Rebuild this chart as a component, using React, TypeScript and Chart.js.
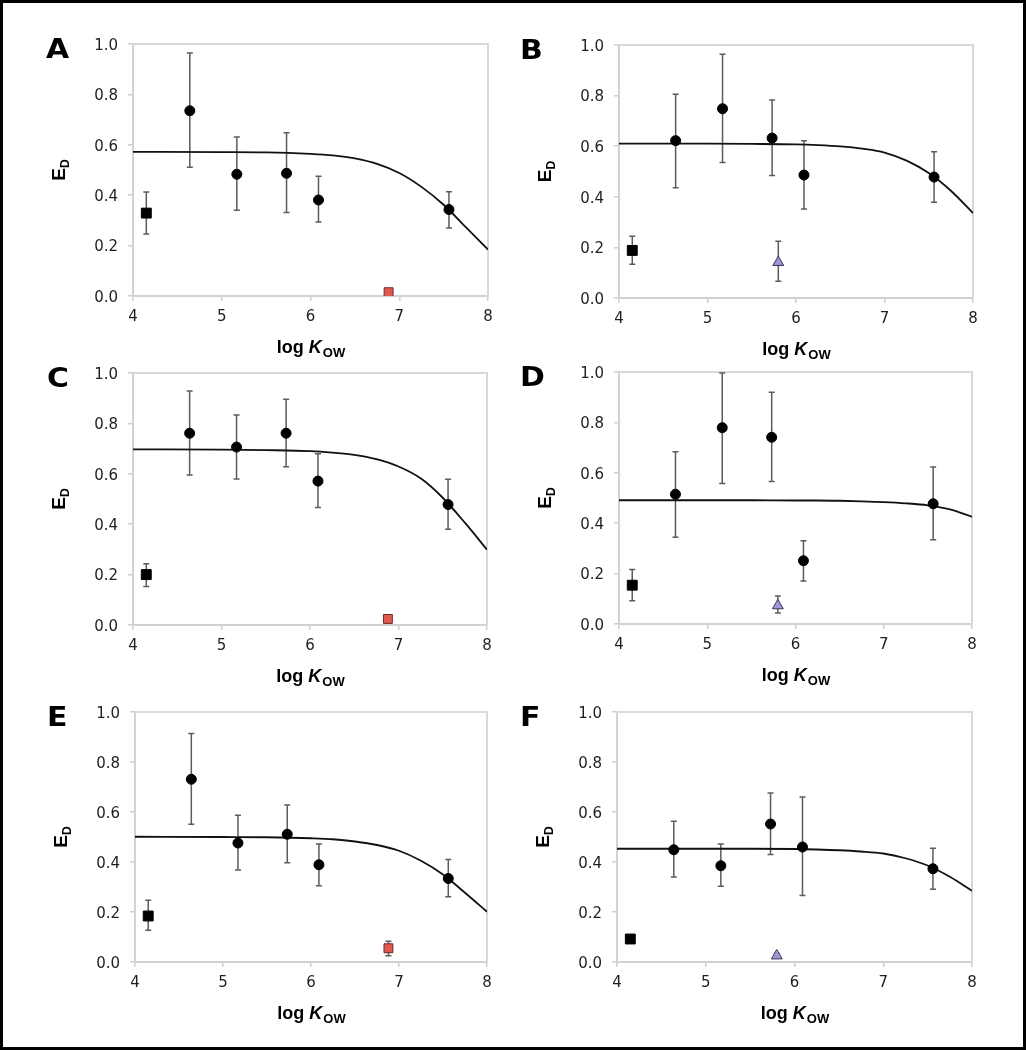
import React, { useEffect, useRef } from "react";
import { Chart, registerables } from "chart.js";

Chart.register(...registerables);

// ---------- data ----------
const circleLogKow = [4.64, 5.17, 5.73, 6.09, 7.56];
const squareLogKow = [4.15];
const redSquareLogKow = [6.88];
const triangleLogKow = [5.8];
const curveLogKow = [4, 5, 5.5, 6, 6.25, 6.5, 6.75, 7, 7.25, 7.5, 7.75, 8];
const xTickValues = [4, 5, 6, 7, 8];
const yTickValues = [0, 0.2, 0.4, 0.6, 0.8, 1.0];
const panelLetters = ["A", "B", "C", "D", "E", "F"];
const xTitleParts = ["log ", "K", "OW"];
const yTitleParts = ["E", "D"];

// Panel A
const aCircle = [0.735, 0.483, 0.487, 0.381, 0.343];
const aCircleLo = [0.511, 0.34, 0.331, 0.294, 0.27];
const aCircleHi = [0.964, 0.631, 0.648, 0.475, 0.414];
const aSquare = [0.329];
const aSquareLo = [0.246];
const aSquareHi = [0.413];
const aRed = [0.015];
const aCurve = [0.572, 0.571, 0.57, 0.564, 0.558, 0.546, 0.524, 0.488, 0.433, 0.362, 0.273, 0.184];

// Panel B
const bCircle = [0.622, 0.748, 0.632, 0.486, 0.478];
const bCircleLo = [0.436, 0.536, 0.484, 0.352, 0.378];
const bCircleHi = [0.805, 0.963, 0.783, 0.622, 0.578];
const bSquare = [0.188];
const bSquareLo = [0.133];
const bSquareHi = [0.244];
const bTriangle = [0.141];
const bTriangleLo = [0.066];
const bTriangleHi = [0.224];
const bCurve = [0.61, 0.61, 0.609, 0.607, 0.604, 0.599, 0.59, 0.575, 0.543, 0.494, 0.424, 0.336];

// Panel C
const cCircle = [0.761, 0.706, 0.761, 0.571, 0.478];
const cCircleLo = [0.595, 0.579, 0.628, 0.466, 0.38];
const cCircleHi = [0.929, 0.833, 0.896, 0.68, 0.578];
const cSquare = [0.2];
const cSquareLo = [0.153];
const cSquareHi = [0.243];
const cRed = [0.024];
const cCurve = [0.697, 0.696, 0.694, 0.69, 0.684, 0.675, 0.658, 0.629, 0.582, 0.505, 0.406, 0.299];

// Panel D
const dCircle = [0.515, 0.779, 0.741, 0.251, 0.477];
const dCircleLo = [0.344, 0.558, 0.565, 0.171, 0.334];
const dCircleHi = [0.684, 0.996, 0.92, 0.33, 0.623];
const dSquare = [0.154];
const dSquareLo = [0.092];
const dSquareHi = [0.216];
const dTriangle = [0.073];
const dTriangleLo = [0.044];
const dTriangleHi = [0.111];
const dCurve = [0.491, 0.491, 0.491, 0.49, 0.49, 0.489, 0.487, 0.484, 0.479, 0.471, 0.455, 0.426];

// Panel E
const eCircle = [0.731, 0.476, 0.511, 0.389, 0.334];
const eCircleLo = [0.551, 0.368, 0.397, 0.305, 0.261];
const eCircleHi = [0.914, 0.587, 0.628, 0.472, 0.41];
const eSquare = [0.184];
const eSquareLo = [0.127];
const eSquareHi = [0.247];
const eRed = [0.055];
const eRedLo = [0.025];
const eRedHi = [0.083];
const eCurve = [0.501, 0.5, 0.499, 0.495, 0.491, 0.482, 0.468, 0.445, 0.405, 0.35, 0.277, 0.201];

// Panel F
const fCircle = [0.449, 0.385, 0.552, 0.46, 0.373];
const fCircleLo = [0.34, 0.303, 0.43, 0.266, 0.291];
const fCircleHi = [0.563, 0.472, 0.676, 0.66, 0.455];
const fSquare = [0.092];
const fSquareLo = [0.084];
const fSquareHi = [0.1];
const fTriangle = [0.025];
const fTriangleLo = [0.016];
const fTriangleHi = [0.034];
const fCurve = [0.453, 0.453, 0.453, 0.452, 0.45, 0.447, 0.442, 0.434, 0.415, 0.386, 0.341, 0.285];

type PanelData = {
  circle: number[]; circleLo: number[]; circleHi: number[];
  square: number[]; squareLo: number[]; squareHi: number[];
  red?: number[]; redLo?: number[] | null; redHi?: number[] | null;
  tri?: number[]; triLo?: number[]; triHi?: number[];
  curve: number[];
};

const panelData: PanelData[] = [
  { circle: aCircle, circleLo: aCircleLo, circleHi: aCircleHi, square: aSquare, squareLo: aSquareLo, squareHi: aSquareHi, red: aRed, redLo: null, redHi: null, curve: aCurve },
  { circle: bCircle, circleLo: bCircleLo, circleHi: bCircleHi, square: bSquare, squareLo: bSquareLo, squareHi: bSquareHi, tri: bTriangle, triLo: bTriangleLo, triHi: bTriangleHi, curve: bCurve },
  { circle: cCircle, circleLo: cCircleLo, circleHi: cCircleHi, square: cSquare, squareLo: cSquareLo, squareHi: cSquareHi, red: cRed, redLo: null, redHi: null, curve: cCurve },
  { circle: dCircle, circleLo: dCircleLo, circleHi: dCircleHi, square: dSquare, squareLo: dSquareLo, squareHi: dSquareHi, tri: dTriangle, triLo: dTriangleLo, triHi: dTriangleHi, curve: dCurve },
  { circle: eCircle, circleLo: eCircleLo, circleHi: eCircleHi, square: eSquare, squareLo: eSquareLo, squareHi: eSquareHi, red: eRed, redLo: eRedLo, redHi: eRedHi, curve: eCurve },
  { circle: fCircle, circleLo: fCircleLo, circleHi: fCircleHi, square: fSquare, squareLo: fSquareLo, squareHi: fSquareHi, tri: fTriangle, triLo: fTriangleLo, triHi: fTriangleHi, curve: fCurve },
];

// ---------- layout (page pixels of each plot area) ----------
const panelLayout = [
  { left: 133, top: 44, right: 488, bottom: 296, letterX: 46 },
  { left: 619, top: 45, right: 973, bottom: 298, letterX: 520 },
  { left: 133, top: 373, right: 487, bottom: 625, letterX: 47 },
  { left: 619, top: 372, right: 972, bottom: 624, letterX: 520 },
  { left: 135, top: 712, right: 487, bottom: 962, letterX: 47 },
  { left: 617, top: 712, right: 972, bottom: 962, letterX: 520 },
];
const PL = 110;
const PR = 20;
const PT = 30;
const PB = 80;

const TICK_FONT = '"DejaVu Sans", sans-serif';
const TITLE_FONT = '"Liberation Sans", Arial, sans-serif';

// ---------- plugins ----------
const errorBarPlugin = {
  id: "errorBars",
  beforeDatasetsDraw(chart: any) {
    const { ctx, chartArea } = chart;
    const yScale = chart.scales.y;
    // top & right frame lines
    ctx.save();
    ctx.strokeStyle = "#d9d9d9";
    ctx.lineWidth = 2;
    ctx.beginPath();
    ctx.moveTo(chartArea.left, chartArea.top);
    ctx.lineTo(chartArea.right, chartArea.top);
    ctx.lineTo(chartArea.right, chartArea.bottom);
    ctx.stroke();
    ctx.restore();

    chart.data.datasets.forEach((ds: any, i: number) => {
      if (!ds.errLo || !ds.errHi) return;
      const meta = chart.getDatasetMeta(i);
      meta.data.forEach((pt: any, j: number) => {
        const lo = ds.errLo[j];
        const hi = ds.errHi[j];
        if (lo == null || hi == null) return;
        const x = pt.x;
        const yl = yScale.getPixelForValue(lo);
        const yh = yScale.getPixelForValue(hi);
        ctx.save();
        ctx.strokeStyle = "#5c5c5c";
        ctx.lineWidth = 1.5;
        ctx.beginPath();
        ctx.moveTo(x, yl);
        ctx.lineTo(x, yh);
        ctx.moveTo(x - 3, yl);
        ctx.lineTo(x + 3, yl);
        ctx.moveTo(x - 3, yh);
        ctx.lineTo(x + 3, yh);
        ctx.stroke();
        ctx.restore();
      });
    });
  },
};

const labelPlugin = {
  id: "panelLabels",
  afterDraw(chart: any, _args: any, opts: any) {
    const { ctx, chartArea } = chart;
    ctx.save();
    ctx.fillStyle = "#000";
    ctx.textBaseline = "alphabetic";

    // panel letter
    ctx.save();
    ctx.font = `bold 26px "DejaVu Sans", sans-serif`;
    ctx.translate(opts.letterX, chartArea.top + 14);
    ctx.scale(1.15, 1);
    ctx.textAlign = "left";
    ctx.fillText(opts.letter, 0, 0);
    ctx.restore();

    // x title: log K_OW
    const xParts = [
      { t: xTitleParts[0], f: `bold 18px ${TITLE_FONT}`, dy: 0 },
      { t: xTitleParts[1], f: `italic bold 18px ${TITLE_FONT}`, dy: 0 },
      { t: xTitleParts[2], f: `bold 13px ${TITLE_FONT}`, dy: 4 },
    ];
    let total = 0;
    const widths = xParts.map((p) => {
      ctx.font = p.f;
      const w = ctx.measureText(p.t).width;
      total += w;
      return w;
    });
    let x = (chartArea.left + chartArea.right) / 2 - total / 2;
    const by = chartArea.bottom + 57;
    ctx.textAlign = "left";
    xParts.forEach((p, i) => {
      ctx.font = p.f;
      ctx.fillText(p.t, x, by + p.dy);
      x += widths[i] + (i === 1 ? 1 : 0);
    });

    // y title: E_D (rotated)
    const yParts = [
      { t: yTitleParts[0], f: `bold 19px ${TITLE_FONT}`, dy: 0 },
      { t: yTitleParts[1], f: `bold 12px ${TITLE_FONT}`, dy: 4 },
    ];
    let ytotal = 0;
    const ywidths = yParts.map((p) => {
      ctx.font = p.f;
      const w = ctx.measureText(p.t).width;
      ytotal += w;
      return w;
    });
    ctx.save();
    ctx.translate(chartArea.left - 68, (chartArea.top + chartArea.bottom) / 2);
    ctx.rotate(-Math.PI / 2);
    let yx = -ytotal / 2;
    yParts.forEach((p, i) => {
      ctx.font = p.f;
      ctx.fillText(p.t, yx, p.dy);
      yx += ywidths[i];
    });
    ctx.restore();

    ctx.restore();
  },
};

function buildDatasets(d: PanelData) {
  const ds: any[] = [];
  ds.push({
    label: "circles",
    data: circleLogKow.map((x, i) => ({ x, y: d.circle[i] })),
    errLo: d.circleLo,
    errHi: d.circleHi,
    pointStyle: "circle",
    pointRadius: 5,
    backgroundColor: "#000",
    borderColor: "#000",
    borderWidth: 1,
  });
  ds.push({
    label: "square",
    data: squareLogKow.map((x, i) => ({ x, y: d.square[i] })),
    errLo: d.squareLo,
    errHi: d.squareHi,
    pointStyle: "rect",
    pointRadius: 7,
    backgroundColor: "#000",
    borderColor: "#000",
    borderWidth: 1,
  });
  if (d.red) {
    ds.push({
      label: "red",
      data: redSquareLogKow.map((x, i) => ({ x, y: d.red![i] })),
      errLo: d.redLo || null,
      errHi: d.redHi || null,
      pointStyle: "rect",
      pointRadius: 6.3,
      backgroundColor: "#e0584f",
      borderColor: "#6e2a25",
      borderWidth: 1,
    });
  }
  if (d.tri) {
    ds.push({
      label: "triangle",
      data: triangleLogKow.map((x, i) => ({ x, y: d.tri![i] })),
      errLo: d.triLo,
      errHi: d.triHi,
      pointStyle: "triangle",
      pointRadius: 6.3,
      backgroundColor: "#a294d4",
      borderColor: "#3e3658",
      borderWidth: 1,
    });
  }
  ds.push({
    label: "fit",
    data: curveLogKow.map((x, i) => ({ x, y: d.curve[i] })),
    showLine: true,
    pointRadius: 0,
    borderColor: "#111",
    borderWidth: 1.8,
    cubicInterpolationMode: "monotone",
    fill: false,
  });
  return ds;
}

function Panel({ index }: { index: number }) {
  const ref = useRef<HTMLCanvasElement | null>(null);
  const lay = panelLayout[index];
  const cw = PL + (lay.right - lay.left) + PR;
  const ch = PT + (lay.bottom - lay.top) + PB;
  const canvasLeft = lay.left - PL;
  const canvasTop = lay.top - PT;

  useEffect(() => {
    if (!ref.current) return;
    const chart = new Chart(ref.current, {
      type: "scatter",
      data: { datasets: buildDatasets(panelData[index]) },
      plugins: [errorBarPlugin, labelPlugin],
      options: {
        animation: false,
        responsive: false,
        events: [],
        layout: { padding: { left: 0, top: PT, right: PR, bottom: 0 } },
        plugins: {
          legend: { display: false },
          tooltip: { enabled: false },
          panelLabels: { letter: panelLetters[index], letterX: lay.letterX - canvasLeft },
        } as any,
        scales: {
          x: {
            type: "linear",
            min: 4,
            max: 8,
            afterFit: (s: any) => {
              s.height = PB;
            },
            afterBuildTicks: (s: any) => {
              s.ticks = xTickValues.map((v) => ({ value: v }));
            },
            ticks: {
              font: { family: TICK_FONT, size: 15 },
              color: "#1f1f1f",
              padding: 7,
              maxRotation: 0,
              autoSkip: false,
              callback: (v: any) => String(v),
            },
            grid: {
              drawOnChartArea: false,
              drawTicks: true,
              tickLength: 5,
              color: "#cfcfcf",
              lineWidth: 1.5,
            },
            border: { display: true, color: "#d2d2d2", width: 2 },
          },
          y: {
            type: "linear",
            min: 0,
            max: 1,
            afterFit: (s: any) => {
              s.width = PL;
            },
            afterBuildTicks: (s: any) => {
              s.ticks = yTickValues.map((v) => ({ value: v }));
            },
            ticks: {
              font: { family: TICK_FONT, size: 15 },
              color: "#1f1f1f",
              padding: 10,
              labelOffset: 2,
              autoSkip: false,
              callback: (v: any) => Number(v).toFixed(1),
            },
            grid: {
              drawOnChartArea: false,
              drawTicks: true,
              tickLength: 5,
              color: "#cfcfcf",
              lineWidth: 1.5,
            },
            border: { display: true, color: "#d2d2d2", width: 2 },
          },
        },
      } as any,
    });
    return () => chart.destroy();
  }, [index]);

  return (
    <canvas
      ref={ref}
      width={cw}
      height={ch}
      style={{ position: "absolute", left: canvasLeft, top: canvasTop, width: cw, height: ch }}
    />
  );
}

export default function App() {
  return (
    <div
      style={{
        position: "absolute",
        left: 0,
        top: 0,
        width: 1026,
        height: 1050,
        background: "#fff",
        overflow: "hidden",
      }}
    >
      {panelLayout.map((_, i) => (
        <Panel key={i} index={i} />
      ))}
      <div
        style={{
          position: "absolute",
          left: 0,
          top: 0,
          width: 1026,
          height: 1050,
          boxSizing: "border-box",
          border: "3px solid #000",
          pointerEvents: "none",
        }}
      />
    </div>
  );
}
